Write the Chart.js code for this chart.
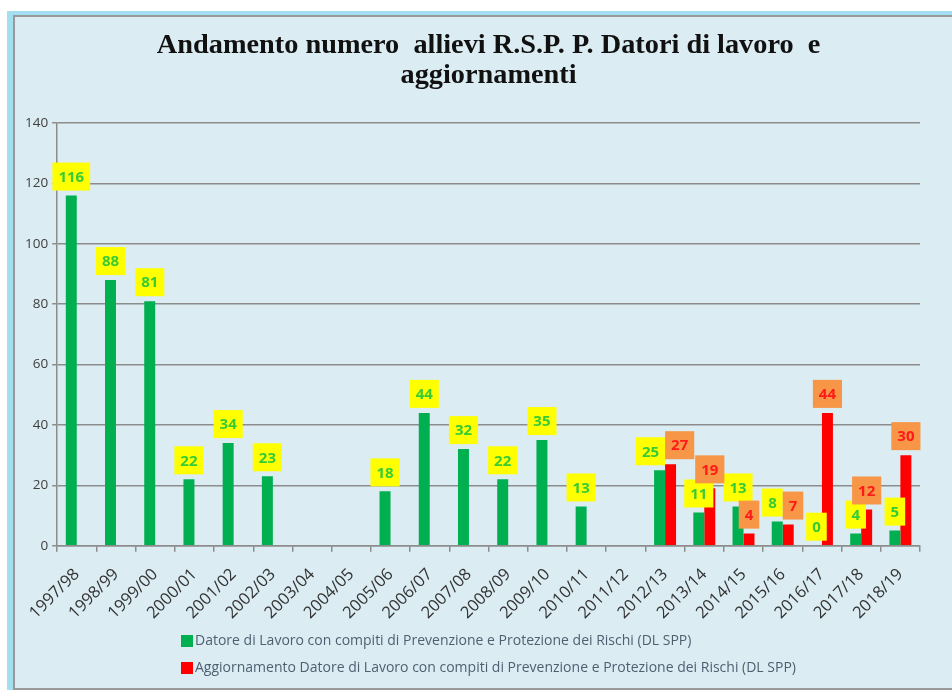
<!DOCTYPE html>
<html>
<head>
<meta charset="utf-8">
<script src="https://cdn.jsdelivr.net/npm/chart.js@4.4.1/dist/chart.umd.min.js"></script>
<style>
  body { margin: 0; background: #ffffff; overflow: hidden; }
  #frame { position: absolute; left: 7px; top: 11px; width: 1000px; height: 700px; background: #a3dff0; }
  #box { position: absolute; left: 6px; top: 4px; width: 1000px; height: 671px; border: 2px solid #999999; background: #dbecf3; }
  #wrap { position: absolute; left: 0; top: 0; width: 946px; height: 671px; }
</style>
</head>
<body>
<div id="frame"><div id="box"><div id="wrap"><canvas id="myChart"></canvas></div></div></div>
<script>
// anni scolastici
const years = ['1997/98', '1998/99', '1999/00', '2000/01', '2001/02', '2002/03', '2003/04', '2004/05',
  '2005/06', '2006/07', '2007/08', '2008/09', '2009/10', '2010/11', '2011/12', '2012/13',
  '2013/14', '2014/15', '2015/16', '2016/17', '2017/18', '2018/19'];

const datoriLavoro = [116, 88, 81, 22, 34, 23, null, null, 18, 44, 32, 22, 35, 13, null, 25, 11, 13, 8, 0, 4, 5];
const aggiornamento = [null, null, null, null, null, null, null, null, null, null, null, null, null, null, null, 27, 19, 4, 7, 44, 12, 30];

const labelGreen = 'Datore di Lavoro con compiti di Prevenzione e Protezione dei Rischi (DL SPP)';
const labelRed = 'Aggiornamento Datore di Lavoro con compiti di Prevenzione e Protezione dei Rischi (DL SPP)';

// etichette dati con sfondo colorato (stile Excel)
const valueLabels = {
  id: 'valueLabels',
  afterDatasetsDraw(chart) {
    const ctx = chart.ctx;
    const boxes = [];
    chart.data.datasets.forEach((ds, di) => {
      const meta = chart.getDatasetMeta(di);
      meta.data.forEach((bar, i) => {
        const v = ds.data[i];
        if (v === null || v === undefined) return;
        ctx.font = 'bold 15px "Open Sans"';
        const w = ctx.measureText(String(v)).width + 12;
        const h = 28;
        boxes.push({ di, i, v, x: bar.x, y: bar.y - 5 - h, w, h, ds });
      });
    });
    // sposta le etichette sovrapposte nella stessa categoria
    boxes.forEach(a => {
      if (a.di !== 0) return;
      const b = boxes.find(o => o.di === 1 && o.i === a.i);
      if (!b) return;
      const overlapY = Math.min(a.y + a.h, b.y + b.h) - Math.max(a.y, b.y);
      if (overlapY > a.h / 2) {
        const need = (a.w + b.w) / 2 - (b.x - a.x);
        if (need > 0) { a.x -= need / 2; b.x += need / 2; }
      }
    });
    boxes.forEach(o => {
      ctx.save();
      ctx.fillStyle = o.ds.labelBg;
      ctx.fillRect(o.x - o.w / 2, o.y, o.w, o.h);
      ctx.fillStyle = o.ds.labelColor;
      ctx.font = 'bold 15px "Open Sans"';
      ctx.textAlign = 'center';
      ctx.textBaseline = 'middle';
      ctx.fillText(String(o.v), o.x, o.y + o.h / 2 + 1);
      ctx.restore();
    });
  }
};

// legenda su due righe allineata a sinistra
const leftLegend = {
  id: 'leftLegend',
  afterDraw(chart) {
    const ctx = chart.ctx;
    ctx.save();
    ctx.font = '14px "Open Sans"';
    ctx.textBaseline = 'middle';
    chart.data.datasets.forEach((ds, di) => {
      const y = 624 + di * 27;
      ctx.fillStyle = ds.backgroundColor;
      ctx.fillRect(166, y - 6, 12, 12);
      ctx.fillStyle = '#4f5f70';
      ctx.fillText(ds.label, 180, y);
    });
    ctx.restore();
  }
};

const dataChart = {
  labels: years,
  datasets: [
    {
      label: labelGreen,
      data: datoriLavoro,
      backgroundColor: '#00b050',
      labelBg: '#ffff00',
      labelColor: '#36cc36',
    },
    {
      label: labelRed,
      data: aggiornamento,
      backgroundColor: '#ff0000',
      labelBg: '#f79646',
      labelColor: '#ff1a1a',
    },
  ],
};

const config = {
  type: 'bar',
  data: dataChart,
  plugins: [valueLabels, leftLegend],
  options: {
    responsive: true,
    maintainAspectRatio: false,
    animation: false,
    categoryPercentage: 0.56,
    barPercentage: 1,
    layout: {
      padding: { left: 6, right: 41, top: 0, bottom: 52 },
    },
    plugins: {
      legend: { display: false },
      tooltip: { enabled: false },
      title: {
        display: true,
        fullSize: false,
        text: ['Andamento numero  allievi R.S.P. P. Datori di lavoro  e', 'aggiornamenti'],
        color: '#111111',
        font: { family: '"Liberation Serif"', size: 28.3, weight: 'bold', lineHeight: 1.08 },
        padding: { top: 13, bottom: 32 },
      },
    },
    scales: {
      x: {
        grid: { drawOnChartArea: false, drawTicks: true, tickLength: 6, color: '#8c8c8c', lineWidth: 1.5 },
        border: { display: true, color: '#8c8c8c', width: 1.5 },
        ticks: {
          color: '#333333',
          font: { family: '"Open Sans"', size: 16.5 },
          minRotation: 45,
          maxRotation: 45,
          autoSkip: false,
          padding: 13,
        },
      },
      y: {
        min: 0,
        max: 140,
        grid: { color: '#8c8c8c', lineWidth: 1.5, tickLength: 5 },
        border: { display: true, color: '#8c8c8c', width: 1.5 },
        ticks: {
          stepSize: 20,
          color: '#404040',
          font: { family: '"Open Sans"', size: 13.5 },
          padding: 4,
        },
      },
    },
  },
};

new Chart(document.getElementById('myChart'), config);
</script>
</body>
</html>
